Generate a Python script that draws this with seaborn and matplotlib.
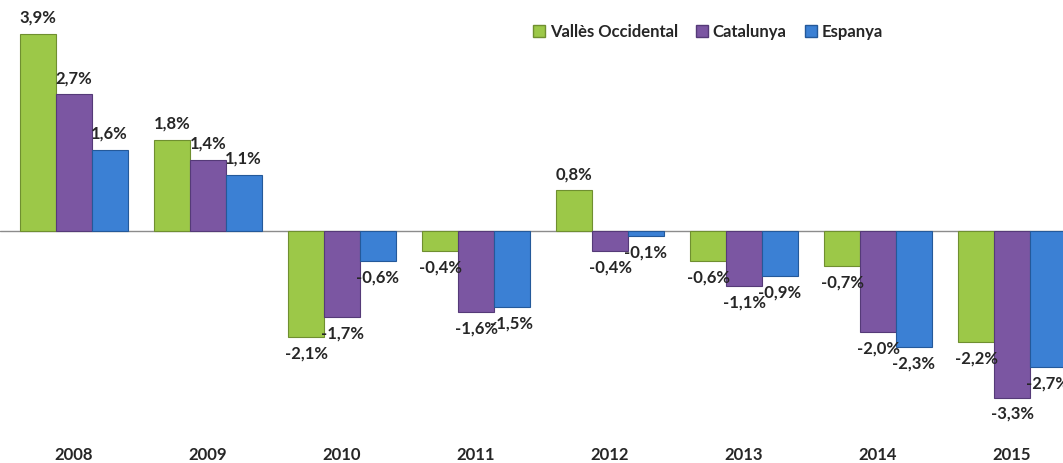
import pandas as pd
import matplotlib.pyplot as plt
import seaborn as sns
from matplotlib.patches import Patch

years = ['2008', '2009', '2010', '2011', '2012', '2013', '2014', '2015']
series = ['Vallès Occidental', 'Catalunya', 'Espanya']
valles = [3.9, 1.8, -2.1, -0.4, 0.8, -0.6, -0.7, -2.2]
catalunya = [2.7, 1.4, -1.7, -1.6, -0.4, -1.1, -2.0, -3.3]
espanya = [1.6, 1.1, -0.6, -1.5, -0.1, -0.9, -2.3, -2.7]
colors = ['#9cc848', '#7b56a2', '#3b80d4']
edges = ['#6f8f30', '#553a78', '#24599a']

rows = []
for name, vals in zip(series, [valles, catalunya, espanya]):
    for y, v in zip(years, vals):
        rows.append({'year': y, 'serie': name, 'valor': v})
df = pd.DataFrame(rows)

sns.set_style('white')
plt.rcParams['font.family'] = ['Lato', 'DejaVu Sans']

fig = plt.figure(figsize=(10.63, 4.63), dpi=100)
ax = fig.add_axes([0, 33 / 463, 1, 430 / 463])

sns.barplot(data=df, x='year', y='valor', hue='serie', hue_order=series,
            palette=colors, saturation=1, width=0.8, ax=ax, legend=False)

for cont, ec, vals in zip(ax.containers, edges, [valles, catalunya, espanya]):
    for bar in cont:
        bar.set_edgecolor(ec)
        bar.set_linewidth(0.8)
    labels = [f'{v:.1f}%'.replace('.', ',') for v in vals]
    ax.bar_label(cont, labels=labels, padding=6, fontsize=12, fontweight='bold')

ax.axhline(0, color='#8c8c8c', lw=1, zorder=0)
ax.set_xlim(-0.552, 7.38)
ax.set_ylim(-3.94, 4.57)
ax.set_yticks([])
ax.set_xlabel('')
ax.set_ylabel('')
ax.tick_params(axis='x', length=0, pad=12, labelsize=12)
for t in ax.get_xticklabels():
    t.set_fontweight('bold')
for s in ax.spines.values():
    s.set_visible(False)

handles = [Patch(facecolor=c, edgecolor=e) for c, e in zip(colors, edges)]
fig.legend(handles, series, loc='center', bbox_to_anchor=(708 / 1063, 1 - 32 / 463),
           ncol=3, frameon=False, handlelength=0.7, handleheight=0.7,
           handletextpad=0.3, columnspacing=1.1, prop={'weight': 'bold', 'size': 12})

fig.savefig('out.png', dpi=100)
